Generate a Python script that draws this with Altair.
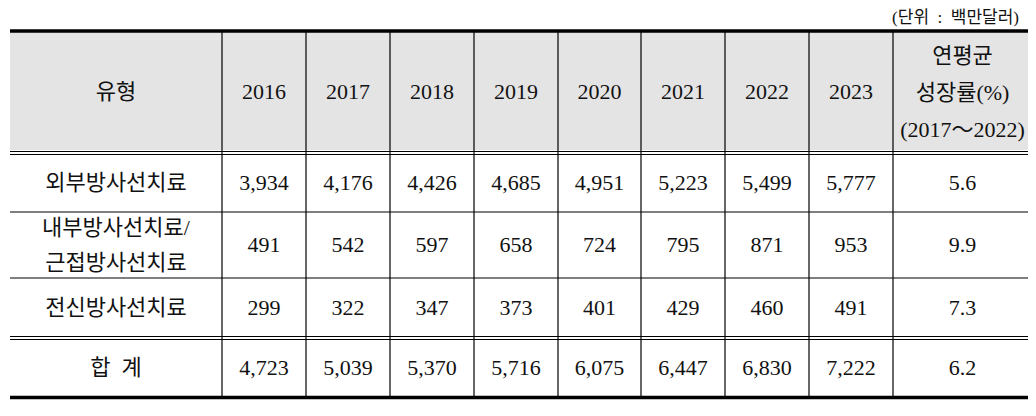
import altair as alt
import pandas as pd

# ---- data ----
years = ["2016", "2017", "2018", "2019", "2020", "2021", "2022", "2023"]
types = ["외부방사선치료", "내부방사선치료/\n근접방사선치료", "전신방사선치료", "합  계"]
external = [3934, 4176, 4426, 4685, 4951, 5223, 5499, 5777]
internal = [491, 542, 597, 658, 724, 795, 871, 953]
systemic = [299, 322, 347, 373, 401, 429, 460, 491]
total = [4723, 5039, 5370, 5716, 6075, 6447, 6830, 7222]
cagr = [5.6, 9.9, 7.3, 6.2]
header_first = "유형"
header_last = "연평균\n성장률(%)\n(2017～2022)"
unit_note = "(단위\u00a0\u00a0:\u00a0\u00a0백만달러)"

# ---- layout (page pixels) ----
col_edges = [10, 222, 306, 390, 474, 558, 641, 725, 809, 893, 1032]
header_band = (32, 152)
row_bands = [(154, 212), (212, 278), (278, 338), (339, 397)]
W, H, M = 1020, 400, 8
LH = 36

series = [external, internal, systemic, total]
cx = [(col_edges[i] + col_edges[i + 1]) / 2 for i in range(len(col_edges) - 1)]

texts = []


def add(x, yc, label, lh=LH):
    parts = label.split("\n")
    n = len(parts)
    for k, p in enumerate(parts):
        texts.append({"x": x, "y": yc + (k - (n - 1) / 2) * lh, "t": p.replace("  ", "\u00a0\u00a0")})


hy = sum(header_band) / 2
add(cx[0], hy, header_first)
for i, yr in enumerate(years):
    add(cx[i + 1], hy, yr)
add(cx[-1], hy + 1, header_last, 37)
for r, (name, vals, g) in enumerate(zip(types, series, cagr)):
    ry = sum(row_bands[r]) / 2
    add(cx[0], ry, name, 35)
    for i, v in enumerate(vals):
        add(cx[i + 1], ry, f"{v:,}")
    add(cx[-1], ry, f"{g:.1f}")
tdf = pd.DataFrame(texts)

lines = []
L, R = col_edges[0], col_edges[-1]
lines.append({"x": L, "x2": R, "y": 31, "y2": 31, "w": 3.5})
lines.append({"x": L, "x2": R, "y": 151.5, "y2": 151.5, "w": 1.2})
lines.append({"x": L, "x2": R, "y": 154.5, "y2": 154.5, "w": 1.2})
lines.append({"x": L, "x2": R, "y": 212, "y2": 212, "w": 1.2})
lines.append({"x": L, "x2": R, "y": 278, "y2": 278, "w": 1.2})
lines.append({"x": L, "x2": R, "y": 336.5, "y2": 336.5, "w": 1.2})
lines.append({"x": L, "x2": R, "y": 339.5, "y2": 339.5, "w": 1.2})
lines.append({"x": L, "x2": R, "y": 397.5, "y2": 397.5, "w": 3.5})
for xe in col_edges[1:-1]:
    lines.append({"x": xe, "x2": xe, "y": 32, "y2": 396, "w": 1.2})
ldf = pd.DataFrame(lines)
for c in ["x", "x2", "y", "y2"]:
    ldf[c] = ldf[c] - M
tdf["x"] = tdf["x"] - M
tdf["y"] = tdf["y"] - M

xs = alt.Scale(domain=[0, W], nice=False, zero=False)
ys = alt.Scale(domain=[0, H], nice=False, zero=False, reverse=True)
FONT = "Liberation Serif, Noto Sans CJK KR"

bg = alt.Chart(pd.DataFrame([{"x": L - M, "x2": R - M, "y": header_band[0] - M, "y2": header_band[1] - 2 - M}])).mark_rect(
    color="#e4e4e4"
).encode(
    x=alt.X("x:Q", scale=xs, axis=None), x2="x2:Q",
    y=alt.Y("y:Q", scale=ys, axis=None), y2="y2:Q",
)

rules = alt.Chart(ldf).mark_rule(color="#000000").encode(
    x=alt.X("x:Q", scale=xs, axis=None), x2="x2:Q",
    y=alt.Y("y:Q", scale=ys, axis=None), y2="y2:Q",
    strokeWidth=alt.StrokeWidth("w:Q", scale=None),
)

txt = alt.Chart(tdf).mark_text(
    font=FONT, fontSize=22, color="#111111", align="center", baseline="middle",
).encode(
    x=alt.X("x:Q", scale=xs, axis=None),
    y=alt.Y("y:Q", scale=ys, axis=None),
    text="t:N",
)

note = alt.Chart(pd.DataFrame([{"x": 1019 - M, "y": 18 - M, "t": unit_note}])).mark_text(
    font=FONT, fontSize=17, color="#111111", align="right", baseline="middle",
).encode(
    x=alt.X("x:Q", scale=xs, axis=None),
    y=alt.Y("y:Q", scale=ys, axis=None),
    text="t:N",
)

chart = alt.layer(bg, rules, txt, note).properties(
    width=W, height=H, padding=0, autosize=alt.AutoSizeParams(type="none")
).configure_view(stroke=None)

chart.save("out.html", embed_options={"renderer": "svg", "actions": False})
